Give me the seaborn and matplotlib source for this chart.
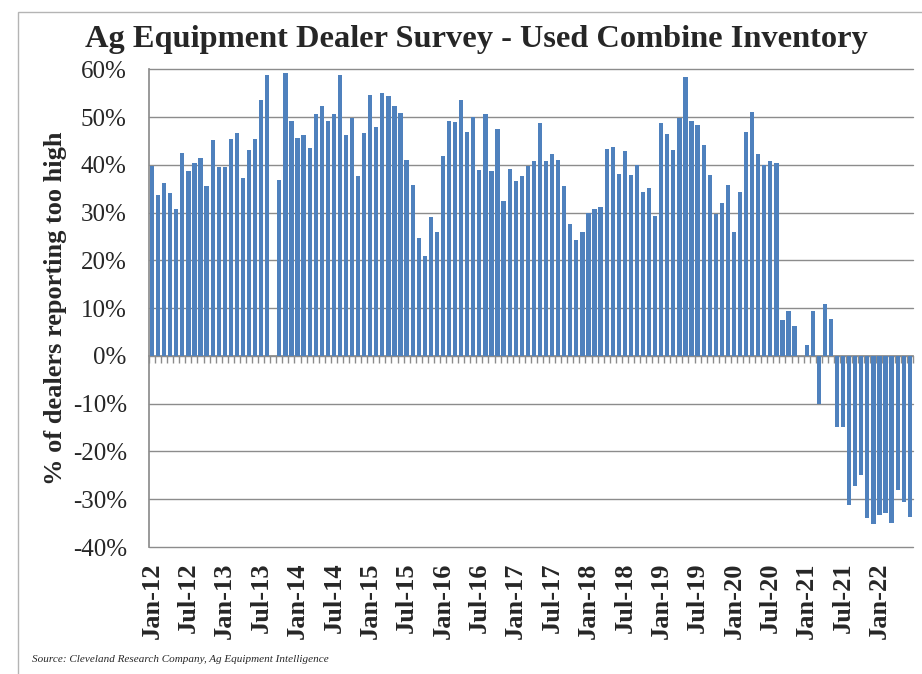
"""
Ag Equipment Dealer Survey - estoque de colheitadeiras usadas
"""

import numpy as np
import pandas as pd
import matplotlib
matplotlib.use('Agg')
import matplotlib.pyplot as plt
from matplotlib.patches import Rectangle
from matplotlib.ticker import FixedLocator, PercentFormatter
import seaborn as sns

# % de concessionárias dizendo que o estoque está alto demais (jan/2012 em diante)
pct_too_high = [
    39.7, 33.7, 36.1, 34.1, 30.7, 42.4, 38.8, 40.3, 41.5, 35.5, 45.2, 39.6,
    39.6, 45.4, 46.6, 37.3, 43.2, 45.4, 53.6, 58.7, np.nan, 36.9, 59.3, 49.2,
    45.7, 46.2, 43.6, 50.6, 52.4, 49.2, 50.6, 58.8, 46.2, 49.9, 37.6, 46.7,
    54.7, 47.9, 55.0, 54.4, 52.3, 50.9, 41.0, 35.8, 24.7, 21.0, 29.0, 26.0,
    41.8, 49.1, 48.9, 53.5, 46.9, 50.0, 39.0, 50.6, 38.8, 47.5, 32.4, 39.2,
    36.6, 37.6, 39.7, 40.8, 48.8, 40.8, 42.2, 41.1, 35.5, 27.7, 24.2, 26.0,
    30.0, 30.7, 31.1, 43.3, 43.7, 38.1, 42.9, 37.9, 39.9, 34.4, 35.2, 29.3,
    48.7, 46.4, 43.1, 49.9, 58.3, 49.2, 48.3, 44.2, 37.8, 29.7, 32.1, 35.7,
    26.0, 34.4, 46.9, 51.0, 42.2, 39.9, 40.8, 40.4, 7.6, 9.3, 6.2, np.nan,
    2.3, 9.3, -10.0, 10.9, 7.7, -14.9, -14.9, -31.1, -27.2, -25.0, -33.9, -35.1,
    -33.3, -32.8, -35.0, -28.1, -30.6, -33.7,
]

months = pd.date_range('2012-01-01', periods=len(pct_too_high), freq='MS').strftime('%b-%y').tolist()
tick_positions = list(range(0, len(months), 6))
tick_labels = [months[i] for i in tick_positions]
y_ticks = list(range(-40, 61, 10))

df = pd.DataFrame({'month': months, 'pct': pct_too_high})

sns.set_theme(style='white')
plt.rcParams['font.family'] = ['Liberation Serif', 'DejaVu Serif']
plt.rcParams['axes.unicode_minus'] = False

grid_color = '#8c8c8c'

fig = plt.figure(figsize=(9.22, 6.74), dpi=100)
ax = fig.add_axes([0.1616, 0.1884, 0.8284, 0.7088])

# Barras mensais
sns.barplot(
    data=df, x='month', y='pct', order=months, color='#4F81BD',
    saturation=1, width=0.7, errorbar=None, linewidth=0, ax=ax
)

ax.set_xlim(-0.5, len(months) - 0.5)
ax.set_ylim(-40, 60)

# Grade horizontal atrás das barras
ax.set_axisbelow(True)
ax.yaxis.grid(True, color=grid_color, linewidth=1.0)
ax.xaxis.grid(False)

ax.set_yticks(y_ticks)
ax.yaxis.set_major_formatter(PercentFormatter(decimals=0))
ax.tick_params(axis='y', length=0, pad=16, labelsize=18)
for line in ax.get_ygridlines():
    line.set_clip_on(False)

ax.set_xticks(tick_positions)
ax.set_xticklabels(tick_labels, rotation=90, fontweight='bold', fontsize=19)
ax.tick_params(axis='x', length=0, pad=11)

for side in ['top', 'right', 'bottom']:
    ax.spines[side].set_visible(False)
ax.spines['left'].set_color(grid_color)

# Eixo no zero com marcas entre categorias
zero_axis = ax.secondary_xaxis(0.4)
zero_axis.set_xticks([])
zero_axis.xaxis.set_minor_locator(FixedLocator(np.arange(-0.5, len(months), 1.0)))
zero_axis.tick_params(which='minor', length=5, width=1, color=grid_color, direction='out')
zero_axis.spines['bottom'].set_color(grid_color)

# Títulos e rótulos
ax.set_xlabel('')
ax.set_ylabel('% of dealers reporting too high', fontsize=19, fontweight='bold')
ax.yaxis.set_label_coords(-0.107, 0.5)

fig.text(0.517, 0.941, 'Ag Equipment Dealer Survey - Used Combine Inventory',
         ha='center', va='center', fontsize=23.3, fontweight='bold')
fig.text(32 / 922, 1 - 660 / 674, 'Source: Cleveland Research Company, Ag Equipment Intelligence',
         ha='left', va='center', fontsize=8, style='italic')

# Moldura do gráfico
fig.add_artist(Rectangle((18 / 922, -0.1), 1.2, 1.1 - 12 / 674, transform=fig.transFigure,
                         fill=False, edgecolor='#b4b4b4', linewidth=1.0))

fig.savefig('out.png', dpi=100)
